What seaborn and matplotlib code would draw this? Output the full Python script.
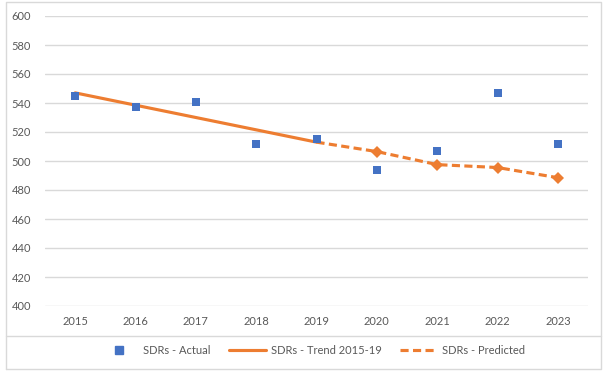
import matplotlib
matplotlib.use("Agg")
import matplotlib.pyplot as plt
import seaborn as sns
from matplotlib.lines import Line2D

years = [2015, 2016, 2017, 2018, 2019, 2020, 2021, 2022, 2023]
actual = [545, 537, 541, 512, 515, 494, 507, 547, 512]

trend_years = [2015, 2016, 2017, 2018, 2019]
trend = [547, 538.5, 530, 521.5, 513]

pred_years = [2019, 2020, 2021, 2022, 2023]
predicted = [513, 506.5, 497.5, 495.5, 488.5]

blue = "#4472C4"
orange = "#ED7D31"
grey_txt = "#595959"

sns.set_style("white")
plt.rcParams["font.family"] = ["Lato", "DejaVu Sans"]

fig = plt.figure(figsize=(6.1, 3.76), dpi=100)
ax = fig.add_axes([45 / 610, 1 - 306 / 376, 543 / 610, 290 / 376])

sns.lineplot(x=trend_years, y=trend, ax=ax, color=orange, linewidth=2.25,
             label="SDRs - Trend 2015-19", zorder=2)
sns.lineplot(x=pred_years, y=predicted, ax=ax, color=orange, linewidth=2.25,
             linestyle=(0, (2.6, 1.4)), marker="D", markersize=6,
             markevery=[1, 2, 3, 4], markeredgewidth=0,
             label="SDRs - Predicted", zorder=2)
sns.scatterplot(x=years, y=actual, ax=ax, color=blue, marker="s", s=36,
                linewidth=0, label="SDRs - Actual", zorder=3)

ax.set_xlim(2014.5, 2023.5)
ax.set_ylim(400, 600)
ax.set_yticks(range(400, 601, 20))
ax.set_xticks(years)
ax.set_xticklabels([str(y) for y in years])
ax.grid(axis="y", color="#D9D9D9", linewidth=1)
ax.set_axisbelow(True)
for s in ax.spines.values():
    s.set_visible(False)
ax.tick_params(axis="both", length=0, labelsize=8, labelcolor=grey_txt)
ax.tick_params(axis="y", pad=10)
ax.tick_params(axis="x", pad=7.5)

ax.get_legend().remove()
handles = [
    Line2D([], [], color=blue, marker="s", linestyle="none", markersize=5.5),
    Line2D([], [], color=orange, linewidth=2.25),
    Line2D([], [], color=orange, linewidth=2.25, linestyle=(0, (2.6, 1.4))),
]
labels = ["SDRs - Actual", "SDRs - Trend 2015-19", "SDRs - Predicted"]
leg = fig.legend(handles, labels, loc="center", ncol=3, frameon=False,
                 bbox_to_anchor=(313 / 610, 1 - 350 / 376), fontsize=8,
                 handlelength=3.3, handletextpad=0.45, columnspacing=1.7)
for t in leg.get_texts():
    t.set_color(grey_txt)

# outer frame and separator like the original chart box
frame_kw = dict(color="#D9D9D9", linewidth=1, transform=fig.transFigure)
x0, x1 = 6 / 610, 601 / 610
y0, y1 = 1 - 369 / 376, 1 - 2 / 376
fig.add_artist(Line2D([x0, x1, x1, x0, x0], [y0, y0, y1, y1, y0], **frame_kw))
fig.add_artist(Line2D([x0, x1], [1 - 336 / 376] * 2, **frame_kw))

fig.savefig("out.png", dpi=100)
